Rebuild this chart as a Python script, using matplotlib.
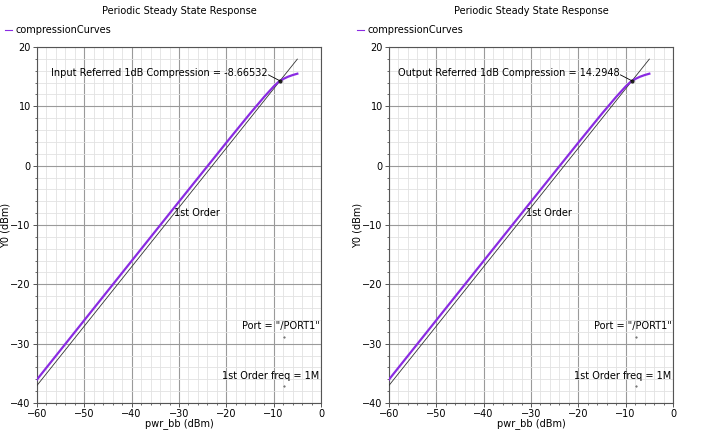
import matplotlib
matplotlib.use("Agg")
import matplotlib.pyplot as plt
from matplotlib.ticker import MultipleLocator

# ---- data ----
pwr_bb = [-60, -50, -40, -30, -20, -15, -12, -10, -9, -8, -7, -6, -5]
compression_curve = [-36.04, -26.04, -16.05, -6.06, 3.88, 8.78, 11.6, 13.35,
                     14.1, 14.6, 14.98, 15.27, 15.5]
first_order_x = [-60, -5]
first_order_y = [-37.04, 17.96]
comp_in = -8.66532
comp_out = 14.2948
titles = ["Periodic Steady State Response", "Periodic Steady State Response"]
comp_labels = ["Input Referred 1dB Compression = -8.66532",
               "Output Referred 1dB Compression = 14.2948"]
legend_label = "compressionCurves"
x_label = "pwr_bb (dBm)"
y_label = "Y0 (dBm)"
port_label = 'Port = "/PORT1"'
freq_label = "1st Order freq = 1M"
first_order_label = "1st Order"
x_ticks = [-60, -50, -40, -30, -20, -10, 0]
y_ticks = [-40, -30, -20, -10, 0, 10, 20]

W, H = 705, 434
fig = plt.figure(figsize=(W / 100, H / 100), dpi=100)
plt.rcParams['font.family'] = ['DejaVu Sans']

purple = '#8a2be2'
fs = 7

lefts = [37, 389]
for i, lp in enumerate(lefts):
    ax = fig.add_axes([lp / W, 1 - 403 / H, 284 / W, (403 - 47) / H])
    ax.set_xlim(-60, 0)
    ax.set_ylim(-40, 20)
    ax.xaxis.set_minor_locator(MultipleLocator(2))
    ax.yaxis.set_minor_locator(MultipleLocator(2))
    ax.set_xticks(x_ticks)
    ax.set_yticks(y_ticks)
    ax.grid(which='major', color='#9a9a9a', linewidth=0.8)
    ax.grid(which='minor', color='#e2e2e2', linewidth=0.6)
    ax.set_axisbelow(True)
    for s in ax.spines.values():
        s.set_color('#555555')
        s.set_linewidth(0.8)
    ax.tick_params(which='major', length=3, width=0.7, color='#555555',
                   labelsize=7, pad=1.5)
    ax.tick_params(which='minor', length=1.5, width=0.6, color='#555555')

    ax.plot(first_order_x, first_order_y, color='#333333', linewidth=0.6, zorder=3)
    ax.plot(pwr_bb, compression_curve, color=purple, linewidth=1.6, zorder=4)
    ax.plot([comp_in], [comp_out], marker='o', color='#222222', markersize=2,
            zorder=5)

    # compression annotation with leader line
    ax.text(-11.3, 15.6, comp_labels[i], ha='right', va='center', fontsize=fs)
    ax.plot([-11.1, comp_in], [15.3, comp_out], color='black', linewidth=0.6,
            zorder=5)
    ax.text(-31, -8.0, first_order_label, ha='left', va='center', fontsize=fs)
    ax.text(-0.3, -27.0, port_label, ha='right', va='center', fontsize=fs)
    ax.plot([-7.8], [-28.9], marker='.', color='#555555', markersize=1)
    ax.text(-0.3, -35.5, freq_label, ha='right', va='center', fontsize=fs)
    ax.plot([-7.8], [-37.2], marker='.', color='#555555', markersize=1)

    ax.set_xlabel(x_label, fontsize=fs)
    ax.xaxis.set_label_coords(0.5, -0.042)
    ax.set_ylabel(y_label, fontsize=fs)
    ax.yaxis.set_label_coords(-0.095, 0.5)

    cx = (lp + 142) / W
    fig.text(cx, 1 - 11 / H, titles[i], fontsize=fs, ha='center', va='center')

    # legend-like header
    lx0 = (lp - 32) / W
    fig.lines.append(plt.Line2D([lx0, lx0 + 7 / W], [1 - 30 / H, 1 - 30 / H],
                                color=purple, linewidth=0.8, transform=fig.transFigure))
    fig.text(lx0 + 10 / W, 1 - 30 / H, legend_label, fontsize=fs, va='center', ha='left')

fig.savefig("out.png", dpi=100)
